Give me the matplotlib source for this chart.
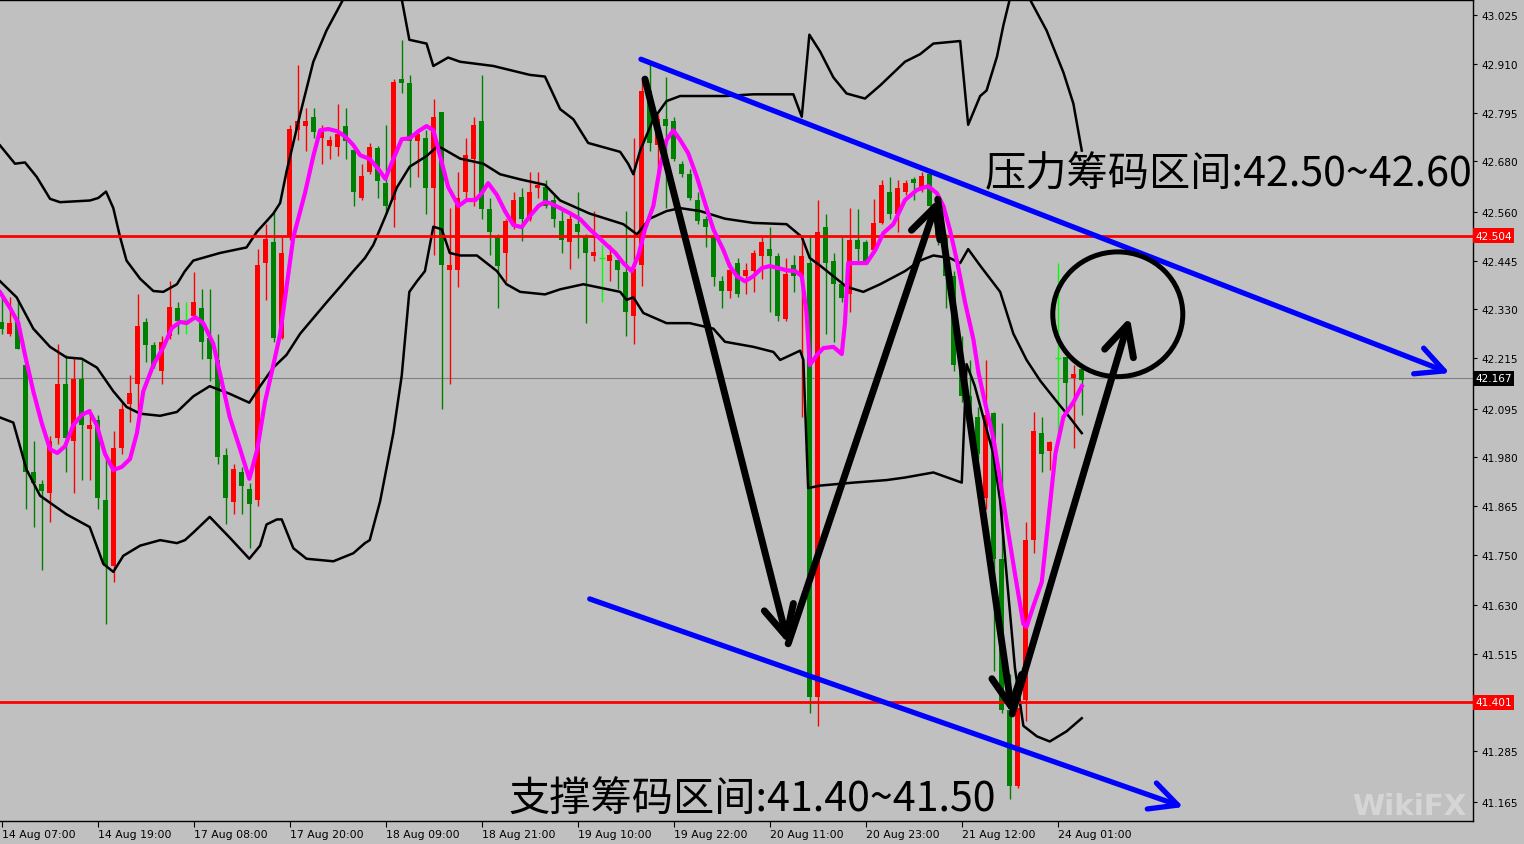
import numpy as np
import matplotlib.pyplot as plt
from matplotlib.patches import Ellipse

nan = float("nan")

# H1 candles, bar 0 = 14 Aug 07:00
opens = [42.299, 42.272, 42.303, 42.198, 41.944, 41.916, 41.895, 42.025, 42.154, 42.018,
         42.164, 42.047, 42.068, 41.879, 41.722, 42.002, 42.105, 42.154, 42.299, 42.245,
         42.185, 42.266, 42.334, 42.305, 42.315, 42.334, 42.262, 42.210, 41.985, 41.874,
         41.944, 41.904, 41.879, 42.439, 42.488, 42.262, 42.501, 42.754, 42.764, 42.785,
         42.735, 42.717, 42.714, 42.764, 42.707, 42.593, 42.655, 42.711, 42.628, 42.587,
         42.875, 42.865, 42.727, 42.735, 42.616, 42.797, 42.423, 42.423, 42.606, 42.686,
         42.776, 42.566, 42.501, 42.463, 42.531, 42.596, 42.544, 42.616, 42.620, 42.587,
         42.538, 42.488, 42.531, 42.501, 42.455, 42.451, 42.445, 42.447, 42.418, 42.315,
         42.435, 42.847, 42.719, 42.779, 42.776, 42.674, 42.649, 42.587, 42.544, 42.501,
         42.396, 42.373, 42.439, 42.408, 42.420, 42.455, 42.472, 42.455, 42.307, 42.435,
         42.408, 42.439, 41.413, 42.525, 42.445, 42.389, 42.365, 42.494, 42.488, 42.470,
         42.534, 42.606, 42.556, 42.606, 42.637, 42.618, 42.649, 42.575, 42.501, 42.408,
         42.198, 42.124, 42.074, 41.883, 42.084, 41.740, 41.382, 41.203, 41.407, 41.784,
         42.037, 41.994, 42.215, 42.216, 42.167, 42.188]
highs = [42.358, 42.358, 42.352, 42.210, 42.018, 41.926, 42.031, 42.247, 42.222, 42.216,
         42.210, 42.093, 42.080, 41.975, 42.043, 42.111, 42.175, 42.365, 42.309, 42.253,
         42.266, 42.396, 42.346, 42.346, 42.418, 42.377, 42.377, 42.272, 42.002, 41.963,
         41.957, 41.920, 42.472, 42.531, 42.562, 42.501, 42.766, 42.908, 42.806, 42.806,
         42.766, 42.739, 42.816, 42.806, 42.717, 42.674, 42.723, 42.717, 42.766, 42.875,
         42.967, 42.884, 42.754, 42.754, 42.826, 42.797, 42.569, 42.655, 42.735, 42.785,
         42.884, 42.593, 42.507, 42.544, 42.606, 42.616, 42.655, 42.655, 42.636, 42.599,
         42.562, 42.562, 42.606, 42.507, 42.562, 42.482, 42.482, 42.457, 42.562, 42.735,
         42.871, 42.915, 42.791, 42.878, 42.785, 42.680, 42.661, 42.606, 42.550, 42.507,
         42.408, 42.439, 42.451, 42.439, 42.470, 42.501, 42.525, 42.463, 42.451, 42.457,
         42.501, 42.501, 42.587, 42.556, 42.463, 42.501, 42.569, 42.566, 42.494, 42.591,
         42.636, 42.643, 42.636, 42.636, 42.643, 42.655, 42.655, 42.593, 42.507, 42.420,
         42.266, 42.210, 42.099, 42.210, 42.086, 42.062, 41.468, 41.382, 41.827, 42.086,
         42.074, 42.018, 42.439, 42.216, 42.198, 42.198]
lows = [42.272, 42.266, 42.235, 41.858, 41.815, 41.713, 41.827, 42.012, 41.944, 41.895,
        41.926, 41.926, 41.858, 41.586, 41.685, 41.988, 42.064, 42.086, 42.204, 42.192,
        42.154, 42.260, 42.272, 42.272, 42.309, 42.213, 42.161, 41.963, 41.823, 41.845,
        41.845, 41.765, 41.864, 42.352, 42.253, 42.260, 42.494, 42.729, 42.705, 42.735,
        42.674, 42.686, 42.692, 42.686, 42.575, 42.587, 42.649, 42.593, 42.556, 42.525,
        42.840, 42.618, 42.643, 42.556, 42.457, 42.093, 42.154, 42.383, 42.593, 42.575,
        42.544, 42.457, 42.334, 42.396, 42.519, 42.492, 42.538, 42.593, 42.569, 42.525,
        42.463, 42.426, 42.451, 42.297, 42.445, 42.346, 42.396, 42.377, 42.266, 42.247,
        42.386, 42.705, 42.655, 42.569, 42.680, 42.643, 42.587, 42.531, 42.476, 42.386,
        42.334, 42.356, 42.358, 42.365, 42.371, 42.402, 42.324, 42.303, 42.303, 42.371,
        42.074, 41.376, 41.345, 42.272, 42.253, 42.346, 42.324, 42.445, 42.439, 42.463,
        42.531, 42.544, 42.513, 42.599, 42.587, 42.606, 42.571, 42.482, 42.334, 42.185,
        42.111, 42.049, 41.975, 41.858, 41.475, 41.376, 41.172, 41.197, 41.357, 41.753,
        41.944, 41.950, 42.012, 42.086, 42.002, 42.080]
closes = [42.282, 42.297, 42.237, 41.944, 41.920, 41.901, 42.018, 42.154, 42.025, 42.164,
          42.056, 42.056, 41.883, 41.722, 42.002, 42.093, 42.133, 42.290, 42.245, 42.195,
          42.253, 42.336, 42.303, 42.305, 42.346, 42.253, 42.213, 41.981, 41.883, 41.953,
          41.913, 41.870, 42.435, 42.497, 42.262, 42.463, 42.756, 42.776, 42.776, 42.748,
          42.748, 42.729, 42.744, 42.727, 42.608, 42.645, 42.714, 42.633, 42.575, 42.868,
          42.865, 42.727, 42.744, 42.616, 42.785, 42.435, 42.435, 42.593, 42.695, 42.766,
          42.566, 42.513, 42.433, 42.538, 42.587, 42.544, 42.606, 42.624, 42.575, 42.544,
          42.494, 42.544, 42.513, 42.463, 42.466, 42.451, 42.457, 42.423, 42.324, 42.426,
          42.847, 42.723, 42.779, 42.764, 42.686, 42.649, 42.593, 42.538, 42.525, 42.405,
          42.373, 42.423, 42.365, 42.423, 42.463, 42.488, 42.455, 42.315, 42.414, 42.408,
          42.455, 41.413, 42.513, 42.439, 42.389, 42.356, 42.494, 42.472, 42.445, 42.534,
          42.624, 42.556, 42.616, 42.628, 42.628, 42.645, 42.575, 42.501, 42.408, 42.198,
          42.124, 42.074, 41.988, 42.080, 41.740, 41.382, 41.203, 41.388, 41.784, 42.043,
          41.988, 42.015, 42.215, 42.155, 42.176, 42.163]

# magenta moving average as (bar, price)
ma_pts = [(-0.2, 42.370), (1.04, 42.333), (2.08, 42.297), (2.91, 42.222), (3.95, 42.136),
          (5.0, 42.061), (6.04, 41.999), (6.95, 41.990), (7.91, 42.006), (8.95, 42.056),
          (10.0, 42.080), (10.95, 42.089), (11.88, 42.056), (12.91, 41.988), (13.95, 41.950),
          (15.0, 41.957), (16.04, 41.976), (16.9, 42.037), (17.7, 42.136), (18.95, 42.198),
          (20.2, 42.240), (21.25, 42.285), (22.3, 42.300), (23.1, 42.297), (24.2, 42.311),
          (25.2, 42.297), (26.45, 42.248), (27.5, 42.160), (28.5, 42.075), (29.8, 41.999),
          (30.95, 41.929), (31.95, 41.999), (32.9, 42.110), (33.95, 42.198), (34.8, 42.271),
          (35.6, 42.382), (36.45, 42.500), (37.9, 42.604), (38.95, 42.692), (39.8, 42.753),
          (40.8, 42.756), (41.9, 42.751), (42.9, 42.739), (43.95, 42.718), (44.8, 42.694),
          (46.0, 42.685), (47.1, 42.661), (47.95, 42.638), (48.95, 42.685), (50.0, 42.732),
          (51.0, 42.734), (52.1, 42.751), (53.1, 42.763), (53.95, 42.753), (54.8, 42.692),
          (55.8, 42.619), (57.1, 42.574), (58.1, 42.588), (59.2, 42.588), (60.0, 42.604),
          (60.8, 42.628), (61.9, 42.600), (62.9, 42.562), (63.95, 42.529), (65.0, 42.524),
          (66.0, 42.550), (67.1, 42.574), (67.9, 42.583), (68.5, 42.581), (69.8, 42.569),
          (71.0, 42.557), (72.3, 42.543), (73.5, 42.519), (74.6, 42.500), (75.6, 42.482),
          (76.7, 42.463), (77.7, 42.439), (78.75, 42.420), (79.6, 42.458), (80.4, 42.519),
          (81.45, 42.574), (82.3, 42.668), (83.1, 42.730), (83.95, 42.753), (84.8, 42.730),
          (85.8, 42.699), (86.9, 42.642), (87.9, 42.581), (88.95, 42.519), (90.2, 42.470),
          (91.0, 42.432), (91.9, 42.408), (92.9, 42.396), (93.95, 42.408), (95.0, 42.427),
          (96.0, 42.432), (97.1, 42.427), (98.1, 42.422), (99.2, 42.420), (100.0, 42.408),
          (100.6, 42.321), (101.0, 42.198), (101.9, 42.222), (102.7, 42.238), (103.95, 42.241),
          (105.0, 42.224), (105.4, 42.297), (105.8, 42.439), (106.9, 42.439), (108.1, 42.439),
          (109.2, 42.470), (110.2, 42.510), (111.45, 42.531), (112.9, 42.588), (114.4, 42.612),
          (115.8, 42.621), (116.9, 42.604), (117.7, 42.574), (118.5, 42.519), (119.4, 42.444),
          (120.4, 42.347), (121.45, 42.259), (122.1, 42.179), (122.9, 42.110), (123.95, 42.025),
          (124.8, 41.926), (125.6, 41.827), (126.65, 41.704), (127.7, 41.586), (128.1, 41.579),
          (128.95, 41.628), (130.0, 41.685), (130.8, 41.827), (131.7, 41.988), (132.7, 42.075),
          (133.95, 42.110), (135.0, 42.148)]

# bollinger bands (black), nan where the line leaves the chart
upper_pts = [(-0.2, 42.717), (1.66, 42.674), (2.91, 42.677), (4.37, 42.643), (6.04, 42.591),
             (7.29, 42.583), (11.04, 42.587), (12.08, 42.593), (13.04, 42.608), (13.95, 42.569),
             (14.79, 42.501), (15.6, 42.445), (17.3, 42.402), (18.95, 42.373), (20.2, 42.371),
             (21.9, 42.389), (22.9, 42.420), (23.95, 42.445), (27.3, 42.463), (30.6, 42.476),
             (31.9, 42.513), (33.1, 42.538), (33.95, 42.556), (34.8, 42.581), (35.6, 42.655),
             (37.3, 42.791), (38.95, 42.915), (40.6, 42.989), (42.7, 43.063), (46.0, nan),
             (50.0, 43.063), (50.95, 42.967), (53.1, 42.958), (53.95, 42.905), (55.8, 42.925),
             (57.3, 42.915), (61.45, 42.905), (66.0, 42.884), (67.9, 42.880), (69.8, 42.803),
             (71.45, 42.779), (73.3, 42.723), (77.3, 42.702), (78.3, 42.674), (78.95, 42.649),
             (79.8, 42.705), (81.45, 42.779), (83.1, 42.822), (84.8, 42.834), (90.4, 42.834),
             (93.95, 42.838), (98.95, 42.838), (100.0, 42.785), (100.95, 42.979), (102.3, 42.939),
             (103.95, 42.878), (105.6, 42.840), (107.9, 42.828), (109.8, 42.859), (112.9, 42.915),
             (114.8, 42.933), (116.45, 42.958), (119.8, 42.964), (120.8, 42.766), (122.3, 42.834),
             (123.1, 42.847), (124.4, 42.927), (125.2, 43.001), (126.0, 43.063), (127.0, nan),
             (128.5, 43.063), (130.6, 42.989), (132.7, 42.890), (133.95, 42.816), (135.0, 42.705)]
mid_pts = [(-0.2, 42.396), (1.87, 42.358), (3.95, 42.284), (6.04, 42.241), (8.1, 42.216),
           (10.0, 42.213), (11.9, 42.192), (13.95, 42.136), (15.6, 42.099), (17.3, 42.083),
           (19.8, 42.078), (21.9, 42.087), (22.9, 42.105), (23.95, 42.124), (26.0, 42.148),
           (28.5, 42.130), (30.95, 42.109), (32.3, 42.148), (33.95, 42.192), (35.6, 42.222),
           (37.3, 42.272), (38.95, 42.309), (40.6, 42.346), (42.3, 42.383), (43.95, 42.420),
           (45.4, 42.451), (46.45, 42.482), (48.1, 42.556), (49.4, 42.618), (51.0, 42.667),
           (53.1, 42.692), (54.4, 42.714), (55.0, 42.711), (57.3, 42.686), (60.2, 42.674),
           (62.3, 42.649), (64.8, 42.637), (67.9, 42.624), (69.8, 42.587), (73.5, 42.556),
           (77.7, 42.531), (79.4, 42.507), (81.0, 42.544), (83.1, 42.562), (84.8, 42.569),
           (87.3, 42.562), (90.4, 42.544), (93.95, 42.534), (98.1, 42.531), (100.0, 42.501),
           (101.0, 42.451), (102.3, 42.433), (103.95, 42.408), (105.6, 42.383), (107.7, 42.371),
           (109.8, 42.389), (112.9, 42.420), (114.8, 42.445), (116.45, 42.457), (118.5, 42.451),
           (119.8, 42.439), (120.8, 42.472), (122.3, 42.433), (124.8, 42.371), (126.45, 42.272),
           (128.1, 42.210), (129.8, 42.161), (131.9, 42.111), (133.5, 42.074), (135.0, 42.037)]
lower_pts = [(-0.2, 42.074), (1.45, 42.062), (3.1, 41.951), (4.8, 41.889), (8.1, 41.845),
             (11.0, 41.815), (12.7, 41.728), (13.95, 41.709), (15.2, 41.747), (17.3, 41.771),
             (19.8, 41.784), (21.9, 41.777), (22.9, 41.784), (23.95, 41.802), (26.0, 41.839),
             (28.5, 41.790), (30.95, 41.740), (32.3, 41.771), (33.1, 41.821), (34.4, 41.833),
             (35.0, 41.833), (36.45, 41.765), (38.1, 41.740), (41.45, 41.734), (43.95, 41.753),
             (45.4, 41.777), (46.0, 41.784), (47.3, 41.876), (48.95, 42.037), (50.0, 42.173),
             (50.95, 42.371), (51.9, 42.396), (52.9, 42.420), (53.95, 42.525), (55.0, 42.519),
             (56.0, 42.463), (57.3, 42.457), (59.4, 42.457), (61.9, 42.420), (63.1, 42.389),
             (64.8, 42.371), (67.9, 42.365), (69.8, 42.377), (72.7, 42.389), (77.3, 42.371),
             (78.1, 42.352), (78.95, 42.358), (80.2, 42.321), (83.1, 42.297), (86.0, 42.297),
             (88.95, 42.284), (90.4, 42.253), (93.95, 42.241), (96.45, 42.229), (97.3, 42.210),
             (99.8, 42.232), (100.2, 42.210), (100.8, 41.907), (102.3, 41.913), (106.45, 41.920),
             (110.6, 41.926), (112.9, 41.932), (116.45, 41.944), (120.0, 41.920), (120.6, 42.200),
             (121.6, 42.150), (122.7, 42.074), (123.95, 41.988), (124.8, 41.876), (125.6, 41.703),
             (126.65, 41.481), (127.7, 41.345), (129.4, 41.320), (131.0, 41.308), (133.1, 41.332),
             (135.0, 41.363)]

price_ticks = [43.025, 42.910, 42.795, 42.680, 42.560, 42.445, 42.330, 42.215, 42.095,
               41.980, 41.865, 41.750, 41.630, 41.515, 41.285, 41.165]
time_labels = ["14 Aug 07:00", "14 Aug 19:00", "17 Aug 08:00", "17 Aug 20:00",
               "18 Aug 09:00", "18 Aug 21:00", "19 Aug 10:00", "19 Aug 22:00",
               "20 Aug 11:00", "20 Aug 23:00", "21 Aug 12:00", "24 Aug 01:00"]
resistance = 42.504
support = 41.401
last_price = 42.167

# hand drawn objects (bar, price)
trend_top = [(79.9, 42.921), (181.0, 42.179)]
trend_bottom = [(73.5, 41.645), (147.7, 41.153)]
zigzag = [(80.4, 42.874), (98.3, 41.539), (117.0, 42.590), (126.3, 41.373), (141.0, 42.311)]
circle_center = (139.5, 42.318)
label_top = "压力筹码区间:42.50~42.60"
label_bottom = "支撑筹码区间:41.40~41.50"

BG = "#c0c0c0"
cjk = ["Noto Sans CJK SC", "DejaVu Sans"]

fig = plt.figure(figsize=(15.24, 8.45), dpi=100, facecolor=BG)
ax = fig.add_axes([0, 23 / 845, 1473 / 1524, 821 / 845])
ax.set_facecolor(BG)
ax.set_xlim(-0.2125, 183.9)
ax.set_ylim(41.120, 43.061)

# candles: red = up, green = down, lime = doji
o = np.array(opens)
h = np.array(highs)
l = np.array(lows)
c = np.array(closes)
x = np.arange(len(o))
cols = np.where(c > o, "#ff0000", np.where(c < o, "#008000", "#00ff00"))
ax.vlines(x, l, h, colors=cols, lw=1.0, zorder=2)
doji = c == o
body_lo = np.minimum(o, c)
body_h = np.maximum(np.abs(c - o), 0.004)
ax.bar(x[~doji], body_h[~doji], bottom=body_lo[~doji], width=0.65,
       color=cols[~doji], lw=0, zorder=2)
ax.hlines(o[doji], x[doji] - 0.35, x[doji] + 0.35, colors="#00ff00", lw=1.0, zorder=2)

# indicators
for pts in (upper_pts, mid_pts, lower_pts):
    bx, by = zip(*pts)
    ax.plot(bx, by, color="black", lw=1.8, zorder=3)
mx, my = zip(*ma_pts)
ax.plot(mx, my, color="#ff00ff", lw=3.0, zorder=4, solid_joinstyle="round")

# levels
ax.axhline(last_price, color="#808080", lw=0.8, zorder=1)
for lvl in (resistance, support):
    ax.axhline(lvl, color="#ff0000", lw=2.0, zorder=3)

# trend lines and zigzag arrows
for (x0, y0), (x1, y1) in (trend_top, trend_bottom):
    ax.annotate("", xy=(x1, y1), xytext=(x0, y0),
                arrowprops=dict(arrowstyle="->,head_length=0.9,head_width=0.45",
                                color="#0000ff", lw=3.8, shrinkA=0, shrinkB=0,
                                mutation_scale=22), zorder=5)
for (x0, y0), (x1, y1) in zip(zigzag[:-1], zigzag[1:]):
    ax.annotate("", xy=(x1, y1), xytext=(x0, y0),
                arrowprops=dict(arrowstyle="->,head_length=0.9,head_width=0.45",
                                color="black", lw=5.0, shrinkA=0, shrinkB=0,
                                mutation_scale=24), zorder=6)
ax.add_patch(Ellipse(circle_center, width=16.25, height=0.295, fill=False,
                     ec="black", lw=3.6, zorder=6))

ax.text(122.9, 42.649, label_top, family=cjk, fontsize=29.7, va="center",
        ha="left", color="black", zorder=7, clip_on=False)
ax.text(63.3, 41.172, label_bottom, family=cjk, fontsize=29.7, va="center",
        ha="left", color="black", zorder=7, clip_on=False)

# axes styling like the terminal
ax.spines["left"].set_visible(False)
for side in ("top", "right", "bottom"):
    ax.spines[side].set_color("black")
    ax.spines[side].set_linewidth(1.0)

ax.yaxis.tick_right()
ax.set_yticks(price_ticks)
ax.set_yticklabels([f"{p:.3f}" for p in price_ticks])
ax.tick_params(axis="y", length=3, pad=3, labelsize=7.6, colors="black")
ax.set_xticks(np.arange(0, 12 * len(time_labels), 12))
ax.set_xticklabels(time_labels, ha="left")
ax.tick_params(axis="x", length=4, pad=2, labelsize=7.8, colors="black")

ytr = ax.get_yaxis_transform()
for lvl, fc in ((resistance, "#ff0000"), (support, "#ff0000"), (last_price, "black")):
    ax.text(1.0015, lvl, f"{lvl:.3f}", transform=ytr, fontsize=7.6, color="white",
            va="center", ha="left", zorder=8, clip_on=False,
            bbox=dict(boxstyle="square,pad=0.25", fc=fc, ec="none"))

# faint watermark, kept inside the plot area
fig.text(0.925, 0.045, "WikiFX", fontsize=21, fontweight="bold", color="white",
         alpha=0.35, ha="center", va="center")

fig.savefig("out.png", dpi=100, facecolor=BG)
